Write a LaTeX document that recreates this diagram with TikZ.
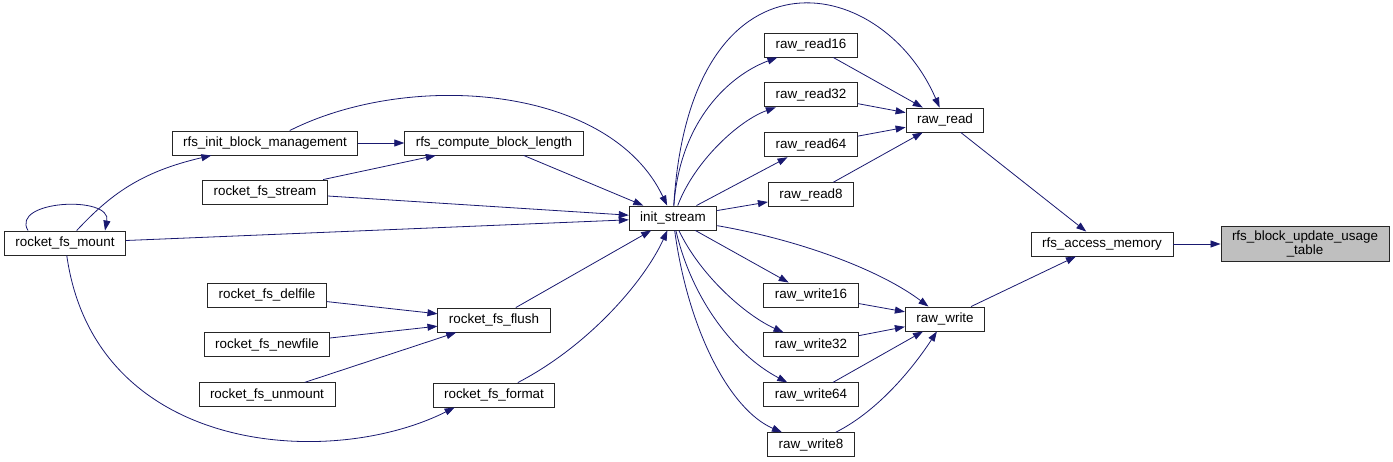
\documentclass[tikz,border=0pt]{standalone}
\usepackage{fontspec}
\setmainfont{Liberation Sans}
\usetikzlibrary{arrows.meta,positioning}
\definecolor{edgeblue}{HTML}{191970}

\begin{document}
\begin{tikzpicture}[x=1pt,y=-1pt,>={Triangle[length=10pt,width=7pt]},
  func/.style={rectangle, draw=black!85, line width=0.9pt, minimum height=24pt,
    inner xsep=11pt, inner ysep=3pt, align=center, font=\fontsize{13.4}{14.5}\selectfont},
  call/.style={->, draw=edgeblue, line width=0.8pt}]

\useasboundingbox (0,0) rectangle (1393,461);

% callers on the left
\node (mount) [func] at (65,243) {rocket\_fs\_mount};
\node (initbm) [func] at (265,143) {rfs\_init\_block\_management};
\node (compute) [func] at (494,143) {rfs\_compute\_block\_length};
\node (stream) [func] at (265,192) {rocket\_fs\_stream};
\node (delfile) [func] at (267,295) {rocket\_fs\_delfile};
\node (newfile) [func, below=25pt of delfile] {rocket\_fs\_newfile};
\node (unmount) [func, below=25pt of newfile] {rocket\_fs\_unmount};
\node (flush) [func] at (494,320) {rocket\_fs\_flush};
\node (format) [func] at (494,395) {rocket\_fs\_format};

\node (init) [func] at (673,218) {init\_stream};

% read and write paths
\node (rd16) [func] at (811,45) {raw\_read16};
\node (rd32) [func, below=25pt of rd16] {raw\_read32};
\node (rd64) [func, below=25pt of rd32] {raw\_read64};
\node (rd8) [func, below=25pt of rd64] {raw\_read8};
\node (rd) [func] at (945,120) {raw\_read};

\node (wr16) [func] at (811,295) {raw\_write16};
\node (wr32) [func, below=25pt of wr16] {raw\_write32};
\node (wr64) [func, below=25pt of wr32] {raw\_write64};
\node (wr8) [func, below=25pt of wr64] {raw\_write8};
\node (wr) [func] at (945,319) {raw\_write};

\node (access) [func] at (1102,244) {rfs\_access\_memory};
\node (update) [func, fill=black!25, inner ysep=4pt] at (1305,244)
{rfs\_block\_update\_usage\\\_table};

\draw[call] ([xshift=-37pt]mount.north) .. controls (10,200) and (112,195) .. ([xshift=40pt]mount.north);
\draw[call] (mount) .. controls (110,195) and (140,172) .. (initbm);
\draw[call] (mount) .. controls (95,455) and (330,470) .. ([xshift=22pt]format.south west);
\draw[call] (mount) -- (init);
\draw[call] (initbm) -- (compute);
\draw[call] (initbm) .. controls (410,70) and (610,85) .. (init);
\draw[call] (compute) -- (init);
\draw[call] (stream) -- (compute);
\draw[call] (stream) -- (init);
\draw[call] (delfile) -- (flush);
\draw[call] (newfile) -- (flush);
\draw[call] (unmount) -- (flush);
\draw[call] (flush) -- (init);
\draw[call] (format) .. controls (590,345) and (645,280) .. (init);

\draw[call] (init) .. controls (680,120) and (730,75) .. (rd16);
\draw[call] (init) .. controls (695,160) and (740,120) .. (rd32);
\draw[call] (init) -- (rd64);
\draw[call] (init) -- (rd8);
\draw[call] (init) .. controls (690,-60) and (880,-30) .. (rd);
\draw[call] (rd16) -- (rd);
\draw[call] (rd32) -- (rd);
\draw[call] (rd64) -- (rd);
\draw[call] (rd8) -- (rd);

\draw[call] (init) -- (wr16);
\draw[call] (init) .. controls (700,275) and (745,315) .. (wr32);
\draw[call] (init) .. controls (692,300) and (735,355) .. (wr64);
\draw[call] (init) .. controls (688,330) and (730,410) .. (wr8);
\draw[call] (init) .. controls (800,240) and (880,270) .. (wr);
\draw[call] (wr16) -- (wr);
\draw[call] (wr32) -- (wr);
\draw[call] (wr64) -- (wr);
\draw[call] (wr8) .. controls (880,410) and (915,365) .. (wr);

\draw[call] (rd) -- (access);
\draw[call] (wr) -- (access);
\draw[call] (access) -- (update);

\end{tikzpicture}
\end{document}
